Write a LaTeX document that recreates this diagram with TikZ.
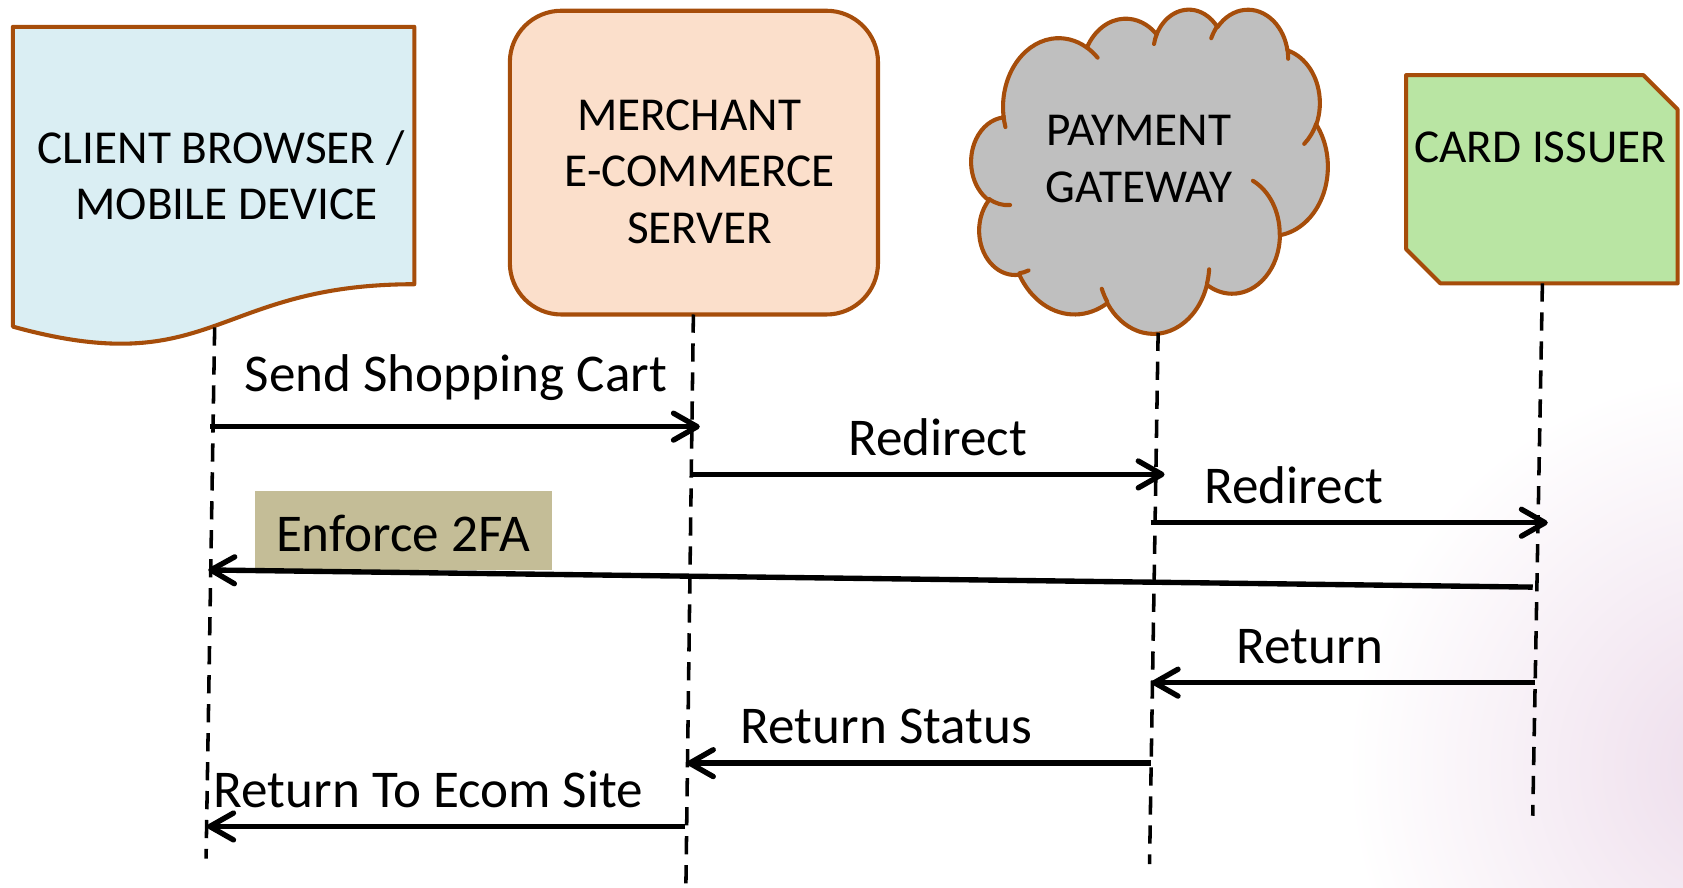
\documentclass[tikz,border=0pt]{standalone}
\usepackage{fontspec}
\setmainfont{Carlito}
\usetikzlibrary{arrows.meta}

\definecolor{edge}{RGB}{166,77,10}
\definecolor{clientfill}{RGB}{218,238,243}
\definecolor{merchantfill}{RGB}{251,223,203}
\definecolor{cloudfill}{RGB}{191,191,191}
\definecolor{issuerfill}{RGB}{185,229,163}
\definecolor{notefill}{RGB}{196,189,151}
\definecolor{glow}{RGB}{237,220,235}

% One arc of the cloud outline: x radius, y radius, start angle, sweep.
% Angles are measured to the point on the ellipse (not parametric);
% the current point is kept in \cldPx, \cldPy.
\newcommand\cloudarc[4]{%
  \pgfmathsetmacro\cldTa{atan2((#1)*sin(#3),(#2)*cos(#3))}%
  \pgfmathsetmacro\cldTb{atan2((#1)*sin((#3)+(#4)),(#2)*cos((#3)+(#4)))}%
  \pgfmathsetmacro\cldTb{\cldTb+360*round(((\cldTa)+(#4)-(\cldTb))/360)}%
  \pgfmathsetmacro\cldOx{\cldPx-(#1)*cos(\cldTa)}%
  \pgfmathsetmacro\cldOy{\cldPy-(#2)*sin(\cldTa)}%
  \xdef\cldPath{\cldPath arc[start angle=\cldTa,end angle=\cldTb,x radius=#1,y radius=#2]}%
  \pgfmathsetmacro\cldPx{\cldOx+(#1)*cos(\cldTb)}%
  \pgfmathsetmacro\cldPy{\cldOy+(#2)*sin(\cldTb)}%
}
% A short inner stroke of the cloud: start x, start y, then as \cloudarc.
\newcommand\cloudline[6]{%
  \def\cldPx{#1}\def\cldPy{#2}%
  \xdef\cldPath{(#1,#2)}%
  \cloudarc{#3}{#4}{#5}{#6}%
  \draw[draw=edge, line width=3.8pt, line cap=round] \cldPath;%
}

\begin{document}
\begin{tikzpicture}[x=1pt, y=-1pt,
  outline/.style={draw=edge, line width=3.8pt, line join=round},
  lifeline/.style={line width=3.3pt, dash pattern=on 17pt off 10pt},
  msg/.style={line width=5pt, -{Straight Barb[round,length=22pt,width=25pt]}},
  boxtext/.style={font=\fontsize{44}{52.5}\selectfont, align=center, inner sep=0pt},
  msgtext/.style={font=\fontsize{49.5}{59}\selectfont, inner sep=0pt, anchor=base west},
]
\useasboundingbox (0,0) rectangle (1568,827);

% soft tint in the lower right corner
\begin{scope}
  \clip (0,0) rectangle (1568,827);
  \shade[inner color=glow, outer color=white] (1625,715) circle (370);
\end{scope}

% client: document shape
\path[outline, fill=clientfill] (12,25) -- (386,25) -- (386,264.8)
  .. controls (199,264.8) and (199,356.1) .. (12,304.3) -- cycle;
\node[boxtext] (client) at (211,163) {CLIENT BROWSER /\hspace*{10pt}\\MOBILE DEVICE};

% merchant: rounded box
\path[outline, fill=merchantfill, rounded corners=48pt] (475,10) rectangle (818,293);
\node[boxtext] (merchant) at (652,160) {MERCHANT\hspace*{20pt}\\E-COMMERCE\\SERVER};

% gateway: cloud
\begin{scope}[shift={(905,8)}, x=0.7685pt, y=-0.699pt]
  \def\cldPx{39}\def\cldPy{143.7}%
  \xdef\cldPath{(39,143.7)}%
  \cloudarc{67.53}{91.90}{-190.48748}{123.78053}%
  \cloudarc{53.33}{72.67}{-144.10238}{89.94523}%
  \cloudarc{43.65}{59.45}{-145.80792}{99.72302}%
  \cloudarc{48.57}{65.95}{-130.98607}{117.24173}%
  \cloudarc{53.33}{72.73}{-78.70888}{109.02692}%
  \cloudarc{67.75}{92.20}{-46.26725}{130.269}%
  \cloudarc{57.85}{78.67}{0.62502}{114.03333}%
  \cloudarc{67.52}{92.15}{22.4516}{115.17255}%
  \cloudarc{77.20}{105.43}{66.24263}{75.71102}%
  \cloudarc{43.60}{59.18}{-274.94208}{146.73557}%
  \cloudarc{43.45}{59.45}{-246.8285}{152.51885}%
  \path[outline, fill=cloudfill] \cldPath -- cycle;
  \cloudline{46.93}{261.77}{43.45}{59.45}{86.742}{26.4295}
  \cloudline{69.28}{348.99}{43.60}{59.18}{73.61047}{11.44747}
  \cloudline{164.78}{390.90}{67.52}{92.15}{137.62415}{14.0811}
  \cloudline{288.27}{347.51}{67.52}{92.15}{6.45327}{15.99835}
  \cloudline{341.29}{229.54}{57.85}{78.67}{-70.29235}{70.91737}
  \cloudline{417.98}{153.54}{53.33}{72.73}{30.31803}{27.7515}
  \cloudline{383.24}{54.26}{48.57}{65.95}{-13.74433}{14.8589}
  \cloudline{290.78}{39.52}{48.57}{65.95}{-149.18145}{18.19537}
  \cloudline{221.41}{47.20}{43.65}{59.45}{-163.49427}{17.68635}
  \cloudline{140.00}{51.92}{67.53}{91.90}{-66.70695}{12.31935}
  \cloudline{41.27}{157.89}{67.53}{91.90}{157.65435}{11.85817}
\end{scope}
\node[boxtext] (gateway) at (1061,148) {PAYMENT\\GATEWAY};

% issuer: box with two cut corners
\path[outline, fill=issuerfill] (1310,70) -- (1531,70) -- (1563,102)
  -- (1563,264) -- (1342,264) -- (1310,232) -- cycle;
\node[boxtext, anchor=base] (issuer) at (1435,151) {CARD ISSUER};

% lifelines
\coordinate (client-top) at (200,305);    \coordinate (client-bot) at (192,800);
\coordinate (merchant-top) at (646,293);  \coordinate (merchant-bot) at (639,827);
\coordinate (gateway-top) at (1079,310);  \coordinate (gateway-bot) at (1071,805);
\coordinate (issuer-top) at (1437,264);   \coordinate (issuer-bot) at (1428,760);
\draw[lifeline] (client-top) -- (client-bot);
\draw[lifeline] (merchant-top) -- (merchant-bot);
\draw[lifeline] (gateway-top) -- (gateway-bot);
\draw[lifeline] (issuer-top) -- (issuer-bot);

% message ends
\coordinate (cart-from) at (196,397.5);     \coordinate (cart-to) at (652,397.5);
\coordinate (redir1-from) at (643,442);     \coordinate (redir1-to) at (1085,442);
\coordinate (redir2-from) at (1072,487);    \coordinate (redir2-to) at (1442,487);
\coordinate (auth-from) at (1428,547);      \coordinate (auth-to) at (194,531);
\coordinate (ret-from) at (1430,636);       \coordinate (ret-to) at (1073,636);
\coordinate (status-from) at (1072,711);    \coordinate (status-to) at (640,711);
\coordinate (back-from) at (638,770);       \coordinate (back-to) at (193,770);

% messages
\node[fill=notefill, inner xsep=20pt, inner ysep=0pt, text height=57pt, text depth=17pt,
  anchor=base west, font=\fontsize{49.5}{59}\selectfont] (auth-label) at (237,514) {Enforce 2FA};
\draw[msg] (cart-from) -- (cart-to);
\draw[msg] (redir1-from) -- (redir1-to);
\draw[msg] (redir2-from) -- (redir2-to);
\draw[msg] (auth-from) -- (auth-to);
\draw[msg] (ret-from) -- (ret-to);
\draw[msg] (status-from) -- (status-to);
\draw[msg] (back-from) -- (back-to);

\node[msgtext] (cart-label) at (228,365) {Send Shopping Cart};
\node[msgtext] (redir1-label) at (790,424) {Redirect};
\node[msgtext] (redir2-label) at (1122,469) {Redirect};
\node[msgtext] (ret-label) at (1152,618) {Return};
\node[msgtext] (status-label) at (690,693) {Return Status};
\node[msgtext] (back-label) at (199,752) {Return To Ecom Site};
\end{tikzpicture}
\end{document}
